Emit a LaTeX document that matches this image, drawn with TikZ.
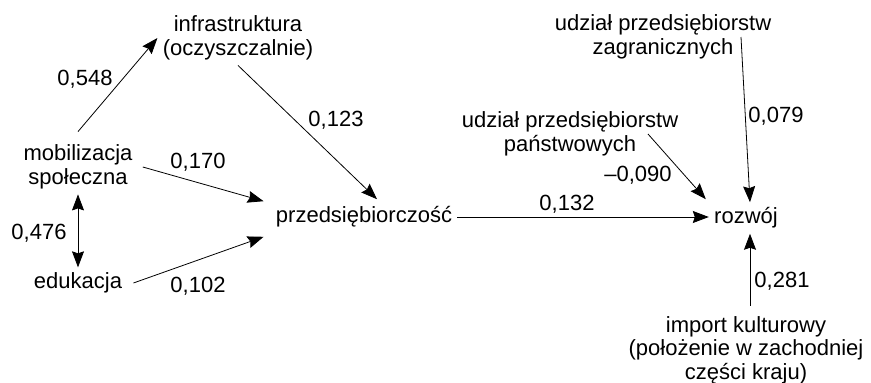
\documentclass[tikz,border=0pt]{standalone}
\usepackage{fontspec}
\setmainfont{Liberation Sans}
\usetikzlibrary{arrows.meta}
\begin{document}
\begin{tikzpicture}[x=1pt, y=-1pt, line width=0.8pt,
    >={Stealth[length=16pt,width=12pt,inset=2pt]},
    every node/.style={font=\fontsize{22}{23.5}\selectfont, inner sep=5pt, align=center},
    coef/.style={inner sep=0pt}]
\useasboundingbox (0,0) rectangle (871,383);

\node (infra) at (238,38) {infrastruktura\\(oczyszczalnie)};
\node (mob) at (78,167) {mobilizacja\\społeczna};
\node (edu) at (78,283) {edukacja};
\node (przeds) at (364,217) {przedsiębiorczość};
\node (rozwoj) at (746,218) {rozwój};
\node (zagr) at (663,37) {udział przedsiębiorstw\\zagranicznych};
\node (pans) at (570,134) {udział przedsiębiorstw\\państwowych};
\node (imp) at (746,350) {import kulturowy\\(położenie w zachodniej\\części kraju)};

\draw[->] ([yshift=8pt]mob.north) -- (infra.west);
\draw[->] (infra.south) -- ([xshift=13pt,yshift=2pt]przeds.north);
\draw[->] ([xshift=5pt]mob.east) -- ([xshift=-7pt]przeds.north west);
\draw[->] ([xshift=6pt]edu.east) -- ([xshift=-7pt,yshift=-4pt]przeds.south west);
\draw[<->] (mob.south) -- (edu.north);
\draw[->] (przeds.east) -- (przeds.east -| rozwoj.west);
\draw[->] ([xshift=78pt]pans.center) -- ([xshift=-3pt,yshift=3pt]rozwoj.north west);
\draw[->] ([xshift=78pt]zagr.center) -- ([xshift=4pt]rozwoj.north);
\draw[->] ([xshift=4pt,yshift=5pt]imp.north) -- ([xshift=4pt]rozwoj.south);

\node[coef] (w548) at (85,79) {0,548};
\node[coef] (w123) at (336,120) {0,123};
\node[coef] (w170) at (198,162) {0,170};
\node[coef] (w476) at (39,233) {0,476};
\node[coef] (w102) at (198,286) {0,102};
\node[coef] (w132) at (567,204) {0,132};
\node[coef] (w090) at (638,175) {–0,090};
\node[coef] (w079) at (776,116) {0,079};
\node[coef] (w281) at (782,281) {0,281};
\end{tikzpicture}
\end{document}
